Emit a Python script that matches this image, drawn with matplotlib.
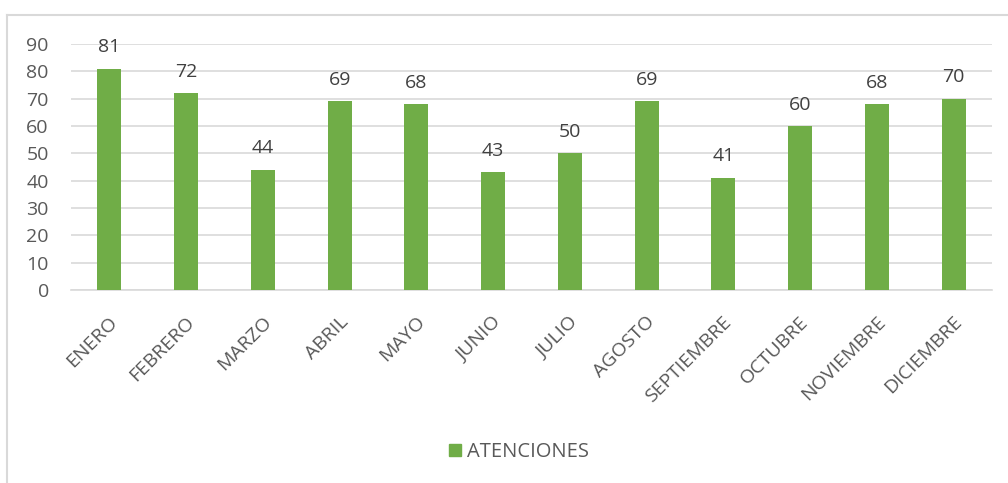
import matplotlib.pyplot as plt
import matplotlib.transforms as mtransforms
from matplotlib.patches import Patch
from matplotlib.lines import Line2D

meses = ['ENERO', 'FEBRERO', 'MARZO', 'ABRIL', 'MAYO', 'JUNIO', 'JULIO',
         'AGOSTO', 'SEPTIEMBRE', 'OCTUBRE', 'NOVIEMBRE', 'DICIEMBRE']
atenciones = [81, 72, 44, 69, 68, 43, 50, 69, 41, 60, 68, 70]
y_ticks = list(range(0, 91, 10))

verde = '#70AD47'
gris_texto = '#595959'
gris_linea = '#D9D9D9'

plt.rcParams['font.family'] = ['Open Sans', 'DejaVu Sans']

fig = plt.figure(figsize=(10.08, 4.83), dpi=100)
W, H = 1008, 483
ax = fig.add_axes([71 / W, 1 - 290 / H, (992 - 71) / W, (290 - 44) / H])

x = list(range(len(meses)))
bars = ax.bar(x, atenciones, width=0.31, color=verde, zorder=3)

# etiquetas de datos
for xi, v in zip(x, atenciones):
    ax.annotate(str(v), (xi, v), xytext=(0, 9), textcoords='offset points',
                ha='center', va='bottom', fontsize=14, color='#404040')

ax.set_xlim(-0.5, len(meses) - 0.5)
ax.set_ylim(0, 90)
ax.set_yticks(y_ticks)
ax.yaxis.grid(True, color=gris_linea, linewidth=1.2, zorder=0)
ax.set_xticks(x)
ax.set_xticklabels(meses, rotation=45, ha='right', va='center',
                   rotation_mode='anchor')
ax.tick_params(axis='both', length=0, labelsize=14, labelcolor=gris_texto)
ax.tick_params(axis='x', pad=21)
ax.tick_params(axis='y', pad=16)
# mover un poco las etiquetas del eje x a la derecha
desplaza = mtransforms.ScaledTranslation(4 / 72, 0, fig.dpi_scale_trans)
for lbl in ax.get_xticklabels():
    lbl.set_transform(lbl.get_transform() + desplaza)
for s in ['top', 'right', 'left']:
    ax.spines[s].set_visible(False)
ax.spines['bottom'].set_color(gris_linea)
ax.spines['bottom'].set_linewidth(1.2)

# borde del area del grafico
fig.add_artist(Line2D([7 / W, 7 / W], [0, 1 - 15 / H], color=gris_linea, linewidth=1.5))
fig.add_artist(Line2D([7 / W, 1], [1 - 15 / H, 1 - 15 / H], color=gris_linea, linewidth=1.5))

fig.legend(handles=[Patch(color=verde, label='ATENCIONES')],
           loc='center', bbox_to_anchor=(519 / W, 1 - 452 / H), frameon=False,
           fontsize=14.5, labelcolor=gris_texto, handlelength=0.6,
           handleheight=0.6, handletextpad=0.3)

plt.savefig('out.png', dpi=100)
